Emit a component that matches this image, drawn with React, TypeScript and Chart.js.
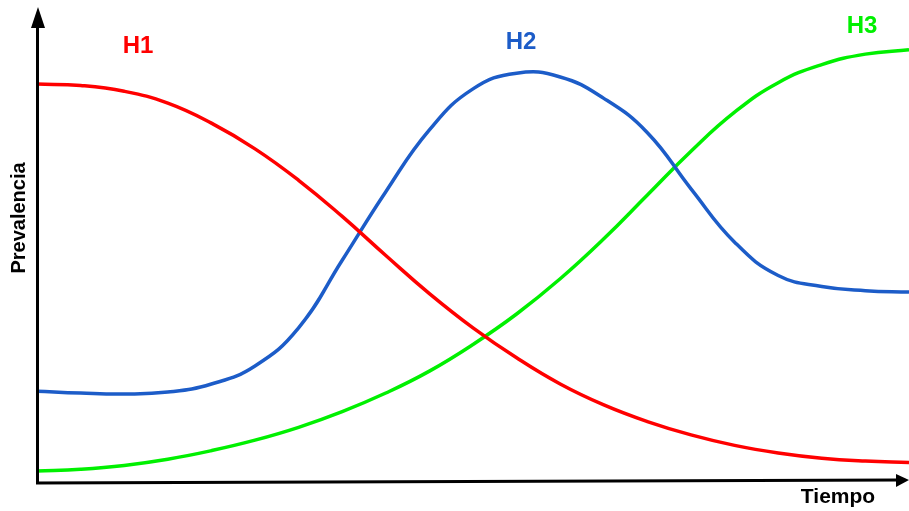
import React, { useEffect, useRef } from "react";
import { Chart, registerables } from "chart.js";

Chart.register(...registerables);

// Time axis (arbitrary units 0..100)
const tiempo = [0, 5, 10, 15, 20, 25, 30, 35, 40, 45, 50, 55, 60, 65, 70, 75, 80, 85, 90, 95, 100];

// Prevalence (arbitrary units 0..100)
const h1 = [83.8, 83.5, 82.3, 79.8, 75.6, 70.2, 63.6, 56.0, 47.8, 39.8, 32.6, 26.3, 20.8, 16.4, 12.9, 10.1, 7.9, 6.3, 5.2, 4.6, 4.3];
const h2 = [19.3, 18.9, 18.7, 19.1, 20.8, 24.6, 32.6, 46.8, 61.2, 74.2, 82.8, 86.1, 85.3, 80.8, 73.6, 61.8, 50.6, 43.6, 41.3, 40.4, 40.1];
const h3 = [2.5, 2.9, 3.7, 5.0, 6.8, 9.0, 11.7, 15.0, 18.9, 23.5, 29.1, 35.5, 42.9, 51.3, 60.5, 69.7, 77.9, 84.1, 87.9, 90.1, 91.0];

const seriesNames = ["H1", "H2", "H3"];
const seriesColors = ["#ff0000", "#1c5cc8", "#00f000"];
const xTitle = "Tiempo";
const yTitle = "Prevalencia";

const FONT = "'Liberation Sans', Arial, sans-serif";

const decorPlugin = {
  id: "decor",
  afterDraw(chart: any) {
    const ctx = chart.ctx;
    ctx.save();
    ctx.strokeStyle = "#000";
    ctx.fillStyle = "#000";
    ctx.lineWidth = 3;
    ctx.lineCap = "butt";
    // y axis
    ctx.beginPath();
    ctx.moveTo(37.5, 26);
    ctx.lineTo(37.5, 484);
    ctx.stroke();
    // x axis
    ctx.beginPath();
    ctx.moveTo(36, 483);
    ctx.lineTo(899, 480);
    ctx.stroke();
    // arrowheads
    ctx.beginPath();
    ctx.moveTo(38, 7);
    ctx.lineTo(31, 28);
    ctx.lineTo(45, 28);
    ctx.closePath();
    ctx.fill();
    ctx.beginPath();
    ctx.moveTo(909, 480);
    ctx.lineTo(896, 474);
    ctx.lineTo(896, 487);
    ctx.closePath();
    ctx.fill();

    // axis titles
    ctx.textAlign = "center";
    ctx.textBaseline = "middle";
    ctx.font = "bold 20px " + FONT;
    ctx.save();
    ctx.translate(19, 218);
    ctx.rotate(-Math.PI / 2);
    ctx.fillText(yTitle, 0, 0);
    ctx.restore();
    ctx.font = "bold 21px " + FONT;
    ctx.fillText(xTitle, 838, 497);

    // series labels
    const pos = [
      [138, 46],
      [521, 42],
      [862, 26],
    ];
    ctx.font = "bold 24px " + FONT;
    seriesNames.forEach((n, i) => {
      ctx.fillStyle = seriesColors[i];
      ctx.fillText(n, pos[i][0], pos[i][1]);
    });
    ctx.restore();
  },
};

export default function App() {
  const ref = useRef<HTMLCanvasElement>(null);
  useEffect(() => {
    if (!ref.current) return;
    const mk = (data: number[], i: number) => ({
      label: seriesNames[i],
      data: tiempo.map((t, k) => ({ x: t, y: data[k] })),
      borderColor: seriesColors[i],
      borderWidth: 3.5,
      pointRadius: 0,
      tension: 0.45,
      fill: false,
      clip: false as any,
    });
    const chart = new Chart(ref.current, {
      type: "line",
      data: { datasets: [mk(h1, 0), mk(h2, 1), mk(h3, 2)] },
      options: {
        animation: false,
        responsive: false,
        maintainAspectRatio: false,
        layout: { padding: { left: 37, right: 0, top: 7, bottom: 28 } },
        plugins: { legend: { display: false }, tooltip: { enabled: false } },
        scales: {
          x: { type: "linear", min: 0, max: 100, display: false },
          y: { type: "linear", min: 0, max: 100, display: false },
        },
      },
      plugins: [decorPlugin],
    });
    return () => chart.destroy();
  }, []);
  return (
    <div style={{ position: "absolute", left: 0, top: 0, width: 909, height: 511, background: "#fff" }}>
      <canvas ref={ref} width={909} height={511} style={{ display: "block" }} />
    </div>
  );
}
